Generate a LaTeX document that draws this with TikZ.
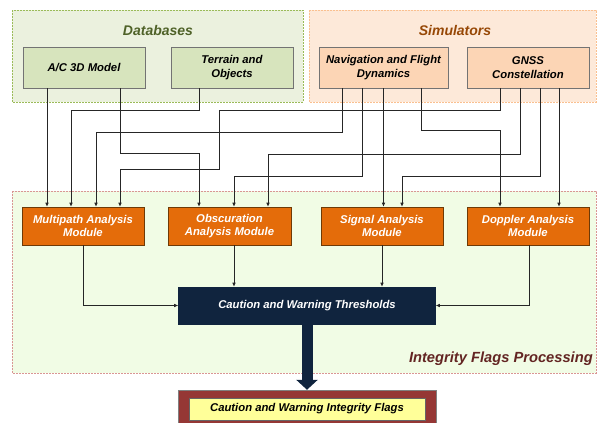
\documentclass[tikz,border=0pt]{standalone}
\usepackage{fontspec}
\setmainfont{Liberation Sans}
\usepackage{tikz}
\usetikzlibrary{arrows.meta,calc}
\definecolor{DbFill}{HTML}{EBF1DE}
\definecolor{DbLine}{HTML}{9BBB59}
\definecolor{DbBox}{HTML}{D7E4BD}
\definecolor{DbText}{HTML}{4F6228}
\definecolor{SimFill}{HTML}{FDE9D9}
\definecolor{SimLine}{HTML}{FAC090}
\definecolor{SimBox}{HTML}{FCD5B5}
\definecolor{SimText}{HTML}{974806}
\definecolor{IfpFill}{HTML}{F1FCE5}
\definecolor{IfpLine}{HTML}{D99694}
\definecolor{IfpText}{HTML}{632523}
\definecolor{ModFill}{HTML}{E46C0A}
\definecolor{ModLine}{HTML}{6E3A06}
\definecolor{Navy}{HTML}{10243E}
\definecolor{FlagRed}{HTML}{953735}
\definecolor{FlagYellow}{HTML}{FFFF99}

\begin{document}
\begin{tikzpicture}[x=1pt,y=-1pt,
   grp/.style={line width=0.6pt,dash pattern=on 2pt off 1pt},
   box/.style={draw=black!55,line width=0.6pt,minimum height=41pt,inner sep=1pt,
     align=center,font=\fontsize{11.3}{13.5}\selectfont\bfseries\itshape},
   modbox/.style={box,fill=ModFill,draw=ModLine,text=white,minimum height=38pt},
   wire/.style={black!85,line width=0.6pt,-{Latex[length=4pt,width=3.5pt]}},
   grptitle/.style={font=\fontsize{14}{16}\selectfont\bfseries\itshape}]
   \useasboundingbox (0,0) rectangle (598,423);

   \filldraw[grp,fill=DbFill,draw=DbLine] (12,10) rectangle (303,102);
   \filldraw[grp,fill=SimFill,draw=SimLine] (309,10) rectangle (596,102);
   \filldraw[grp,fill=IfpFill,draw=IfpLine] (12,191) rectangle (596,373);
   \node[grptitle,text=DbText] (dbtitle) at (158,30) {Databases};
   \node[grptitle,text=SimText] (simtitle) at (455,30) {Simulators};
   \node[grptitle,text=IfpText,anchor=base east,inner sep=0pt,
     font=\fontsize{14.7}{16}\selectfont\bfseries\itshape] (ifptitle) at (593,362) {Integrity Flags Processing};

   \node[box,fill=DbBox,minimum width=122pt] (ac) at (84,67.5) {A/C 3D Model};
   \node[box,fill=DbBox,minimum width=122pt] (terrain) at (232,67.5) {Terrain and\\Objects};
   \node[box,fill=SimBox,minimum width=129pt] (nav) at (383.5,67.5) {Navigation and Flight\\Dynamics};
   \node[box,fill=SimBox,minimum width=122pt] (gnss) at (528,67.5) {GNSS\\Constellation};

   \node[modbox,minimum width=122pt] (mp) at (83,226) {Multipath Analysis\\Module};
   \node[modbox,minimum width=123pt] (obsc) at (229.5,226) {Obscuration\\Analysis Module};
   \node[modbox,minimum width=122pt] (sig) at (382,226) {Signal Analysis\\Module};
   \node[modbox,minimum width=122pt] (dop) at (528,226) {Doppler Analysis\\Module};

   \node[box,fill=Navy,draw=Navy,text=white,minimum width=257pt,minimum height=37pt] (thresh) at (307,305.5) {Caution and Warning Thresholds};
   \node[fill=FlagRed,draw=black!50,minimum width=258pt,minimum height=33pt] (flags) at (307,406.5) {};
   \node[box,fill=FlagYellow,draw=black!60,minimum width=236pt,minimum height=22pt] (flagstext) at (307,409) {Caution and Warning Integrity Flags};

   \draw[wire] ([xshift=-37pt]ac.south) -- ([xshift=-37pt]ac.south |- mp.north);
   \draw[wire] ([xshift=-33pt]terrain.south) -- ++(0,22) -| ([xshift=-12pt]mp.north);
   \draw[wire] ([xshift=-41.5pt]nav.south) -- ++(0,44) -| ([xshift=13pt]mp.north);
   \draw[wire] ([xshift=-28pt]gnss.south) -- ++(0,22) -| (219,169) -| ([xshift=37pt]mp.north);
   \draw[wire] ([xshift=36pt]ac.south) -- ++(0,65) -| ([xshift=-30.5pt]obsc.north);
   \draw[wire] ([xshift=-21.5pt]nav.south) -- ++(0,88) -| ([xshift=4.5pt]obsc.north);
   \draw[wire] ([xshift=-8pt]gnss.south) -- ++(0,66) -| ([xshift=38.5pt]obsc.north);
   \draw[wire] (nav.south) -- (nav.south |- sig.north);
   \draw[wire] ([xshift=12pt]gnss.south) -- ++(0,88) -| ([xshift=20pt]sig.north);
   \draw[wire] ([xshift=37.5pt]nav.south) -- ++(0,42) -| ([xshift=-28pt]dop.north);
   \draw[wire] ([xshift=31pt]gnss.south) -- ([xshift=31pt]gnss.south |- dop.north);

   \draw[wire] (mp.south) |- (thresh.west);
   \draw[wire] ([xshift=4.5pt]obsc.south) -- ([xshift=4.5pt]obsc.south |- thresh.north);
   \draw[wire] (sig.south) -- (sig.south |- thresh.north);
   \draw[wire] ([xshift=1pt]dop.south) |- (thresh.east);
   \draw[Navy,line width=11pt,-{Triangle[length=10pt,width=21pt]}] (thresh.south) -- (flags.north);
\end{tikzpicture}
\end{document}
